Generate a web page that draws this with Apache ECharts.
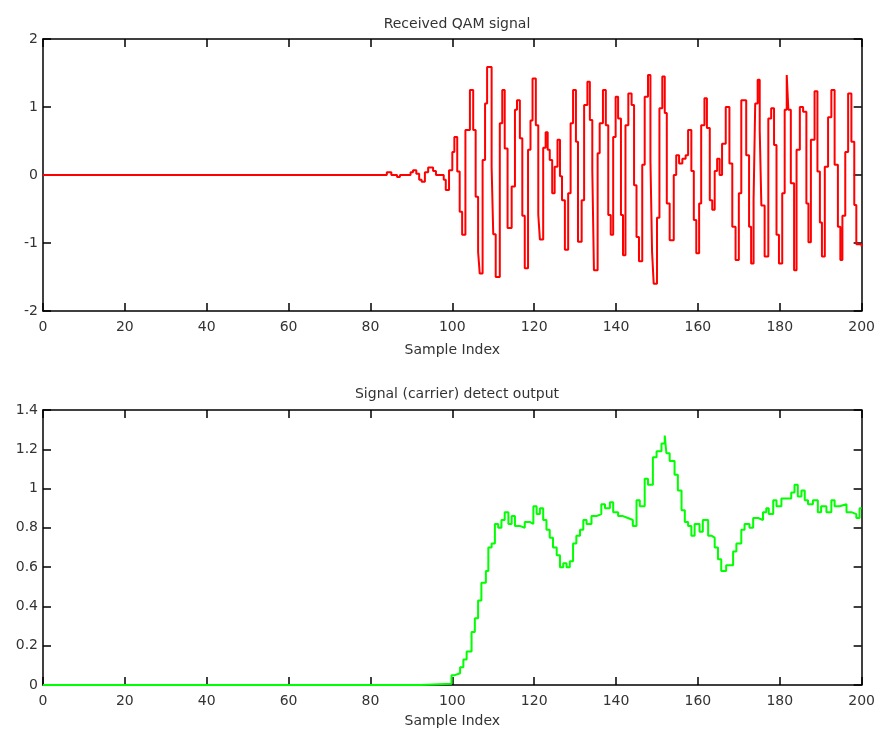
<!DOCTYPE html>
<html>
<head>
<meta charset="utf-8">
<script src="https://cdn.jsdelivr.net/npm/echarts@6/dist/echarts.min.js"></script>
<style>
  html, body { margin: 0; padding: 0; background: #fff; }
  #chart { width: 878px; height: 729px; }
</style>
</head>
<body>
<div id="chart"></div>
<script>
// [sample index, value] step points
const qamSteps = [
  [0, 0], [84, 0.04], [85.1, 0], [86.5, -0.03], [87.2, 0], [89.8, 0.04], [90.4, 0.07],
  [91.2, 0.02], [91.9, -0.07], [92.5, -0.1], [93.3, 0.04], [94.1, 0.11], [95.3, 0.06],
  [96, 0], [97.9, -0.07], [98.4, -0.22], [99.2, 0.07], [100, 0.34], [100.5, 0.56],
  [101.2, 0.05], [101.8, -0.54], [102.4, -0.88], [103.2, 0.66], [104.3, 1.25], [105.1, 0.66],
  [105.7, -0.32], [106.3, -1.13], [106.7, -1.45], [107.4, 0.22], [108, 1.05], [108.5, 1.59],
  [109.6, 0.12], [110, -0.87], [110.6, -1.5], [111.6, 0.76], [112.2, 1.25], [112.8, 0.39],
  [113.5, -0.78], [114.5, -0.17], [115.3, 0.96], [115.8, 1.1], [116.5, 0.54], [117.1, -0.6],
  [117.7, -1.37], [118.5, 0.37], [119.1, 0.8], [119.6, 1.42], [120.4, 0.73], [121, -0.58],
  [121.4, -0.95], [122.2, 0.4], [122.8, 0.63], [123.3, 0.37], [123.8, 0.22], [124.4, -0.27],
  [125, 0.12], [125.7, 0.52], [126.3, -0.02], [126.8, -0.37], [127.5, -1.1], [128.3, -0.27],
  [128.9, 0.76], [129.5, 1.25], [130.2, 0.49], [130.7, -0.98], [131.6, -0.37], [132.2, 1.03],
  [133, 1.37], [133.6, 0.81], [134.2, 0.07], [134.6, -1.4], [135.5, 0.32], [136, 0.76],
  [136.8, 1.25], [137.5, 0.73], [138.1, -0.59], [138.7, -0.88], [139.3, 0.56], [139.9, 1.15],
  [140.5, 0.83], [141.2, -0.59], [141.7, -1.18], [142.3, 0.73], [143, 1.2], [143.8, 1.03],
  [144.4, -0.15], [145, -0.91], [145.6, -1.27], [146.4, 0.15], [147, 1.15], [147.8, 1.47],
  [148.4, 0.22], [148.8, -1.13], [149.2, -1.6], [150, -0.63], [150.6, 0.98], [151.3, 1.45],
  [151.9, 0.91], [152.4, -0.42], [153.1, -0.96], [154.1, 0], [154.7, 0.29], [155.4, 0.17],
  [156.2, 0.24], [157, 0.29], [157.6, 0.66], [158.4, 0.06], [159, -0.66], [159.6, -1.15],
  [160.3, -0.42], [160.8, 0.73], [161.6, 1.13], [162.2, 0.69], [162.9, -0.37], [163.5, -0.51],
  [164.1, 0.06], [164.7, 0.24], [165.3, 0], [165.9, 0.46], [166.8, 1.0], [167.7, 0.17],
  [168.4, -0.76], [169.2, -1.25], [170, -0.27], [170.6, 1.1], [171.8, 0.29], [172.5, -0.76],
  [173, -1.3], [173.6, -0.37], [174, 1.05], [174.6, 1.4], [175.1, 0.66], [175.5, -0.45],
  [176.3, -1.2], [177.2, 0.83], [177.9, 0.98], [178.6, 0.44], [179.2, -0.88], [179.8, -1.3],
  [180.6, -0.27], [181.2, 0.96], [181.7, 1.47], [182.1, 0.96], [182.7, -0.12], [183.5, -1.4],
  [184.1, 0.37], [184.9, 1.0], [185.7, 0.93], [186.5, -0.42], [187, -0.99], [187.6, 0.52],
  [188.5, 1.23], [189.2, 0.05], [189.8, -0.7], [190.3, -1.2], [191, 0.12], [191.8, 0.85],
  [192.6, 1.25], [193.4, 0.15], [194.2, -0.76], [194.8, -1.25], [195.3, -0.6], [196, 0.34],
  [196.7, 1.2], [197.5, 0.49], [198.2, -0.44], [198.7, -1.02], [200, -1.05]
];

const detectSteps = [
  [0, 0], [92.4, 0.006], [99.8, 0.05], [100.6, 0.06], [101.9, 0.09], [102.7, 0.13], [103.5, 0.17],
  [104.7, 0.27], [105.5, 0.34], [106.3, 0.43], [107.1, 0.52], [108.2, 0.58], [108.8, 0.7],
  [109.6, 0.72], [110.4, 0.82], [111.2, 0.8], [112, 0.84], [112.8, 0.88], [113.7, 0.82],
  [114.5, 0.86], [115.3, 0.81], [116.5, 0.8], [117.7, 0.83], [118.9, 0.82], [119.8, 0.91],
  [120.6, 0.87], [121.4, 0.9], [122.2, 0.84], [123, 0.79], [123.8, 0.75], [124.6, 0.7],
  [125.5, 0.66], [126.3, 0.6], [127.1, 0.62], [127.9, 0.6], [128.7, 0.63], [129.5, 0.72],
  [130.3, 0.76], [131.2, 0.79], [132, 0.84], [132.8, 0.82], [134, 0.86], [135.2, 0.87],
  [136.4, 0.92], [137.3, 0.9], [138.5, 0.93], [139.3, 0.88], [140.5, 0.86], [141.7, 0.85],
  [142.9, 0.84], [144.1, 0.81], [145, 0.94], [145.8, 0.91], [147, 1.05], [147.8, 1.02],
  [149, 1.16], [149.9, 1.19], [151.1, 1.23], [151.9, 1.27], [152.3, 1.18], [153.1, 1.14],
  [154.3, 1.07], [155.1, 0.99], [156, 0.89], [156.8, 0.83], [157.6, 0.81], [158.4, 0.76],
  [159.2, 0.82], [160.4, 0.78], [161.2, 0.84], [162.5, 0.76], [163.3, 0.75], [164.1, 0.7],
  [164.9, 0.64], [165.7, 0.58], [166.9, 0.61], [168.6, 0.68], [169.4, 0.72], [170.6, 0.79],
  [171.4, 0.82], [172.6, 0.8], [173.5, 0.85], [174.7, 0.84], [175.9, 0.88], [176.7, 0.9],
  [177.3, 0.87], [178.4, 0.94], [179.2, 0.91], [180.4, 0.95], [182.8, 0.98], [183.6, 1.02],
  [184.4, 0.96], [185.3, 0.99], [186.1, 0.94], [186.9, 0.92], [188.1, 0.94], [189.3, 0.88],
  [190.1, 0.91], [191.4, 0.88], [192.6, 0.94], [193.4, 0.91], [194.6, 0.92], [196.3, 0.88],
  [197.5, 0.87], [198.7, 0.85], [199.5, 0.9], [200, 0.9]
];

const titles = ['Received QAM signal', 'Signal (carrier) detect output'];
const xName = 'Sample Index';

const chartDom = document.getElementById('chart');
const myChart = echarts.init(chartDom);

const font = 'DejaVu Sans, sans-serif';
const txt = '#333';

function xAx(grid, pos, labels, gap) {
  return {
    type: 'value', gridIndex: grid, position: pos,
    min: 0, max: 200, interval: 20,
    name: labels ? xName : '', nameLocation: 'middle', nameGap: gap,
    nameTextStyle: { color: txt, fontSize: 14, fontFamily: font },
    axisLine: { show: true, onZero: false, lineStyle: { color: '#000', width: 1.5 } },
    axisTick: { show: true, inside: true, length: 8, lineStyle: { color: '#000', width: 1.5 } },
    axisLabel: { show: labels, color: txt, fontSize: 14, fontFamily: font, margin: 9 },
    splitLine: { show: false }
  };
}
function yAx(grid, pos, labels, min, max, interval) {
  return {
    type: 'value', gridIndex: grid, position: pos,
    min: min, max: max, interval: interval,
    axisLine: { show: true, onZero: false, lineStyle: { color: '#000', width: 1.5 } },
    axisTick: { show: true, inside: true, length: 8, lineStyle: { color: '#000', width: 1.5 } },
    axisLabel: { show: labels, color: txt, fontSize: 14, fontFamily: font, margin: 5 },
    splitLine: { show: false }
  };
}

const option = {
  backgroundColor: '#fff',
  animation: false,
  title: [
    { text: titles[0], left: 452, top: 12, textAlign: 'center',
      textStyle: { fontSize: 14, fontWeight: 'normal', color: txt, fontFamily: font } },
    { text: titles[1], left: 452, top: 382, textAlign: 'center',
      textStyle: { fontSize: 14, fontWeight: 'normal', color: txt, fontFamily: font } }
  ],
  grid: [
    { left: 43, top: 39, width: 819, height: 272 },
    { left: 43, top: 410, width: 819, height: 275 }
  ],
  xAxis: [
    xAx(0, 'bottom', true, 32), xAx(0, 'top', false, 0),
    xAx(1, 'bottom', true, 29), xAx(1, 'top', false, 0)
  ],
  yAxis: [
    yAx(0, 'left', true, -2, 2, 1), yAx(0, 'right', false, -2, 2, 1),
    yAx(1, 'left', true, 0, 1.4, 0.2), yAx(1, 'right', false, 0, 1.4, 0.2)
  ],
  series: [
    {
      type: 'line', xAxisIndex: 0, yAxisIndex: 0, step: 'end',
      showSymbol: false, symbol: 'none',
      lineStyle: { color: '#ff0000', width: 2 },
      data: qamSteps
    },
    {
      type: 'line', xAxisIndex: 2, yAxisIndex: 2, step: 'end',
      showSymbol: false, symbol: 'none',
      lineStyle: { color: '#00ff00', width: 2 },
      data: detectSteps
    }
  ]
};

myChart.setOption(option);
</script>
</body>
</html>
